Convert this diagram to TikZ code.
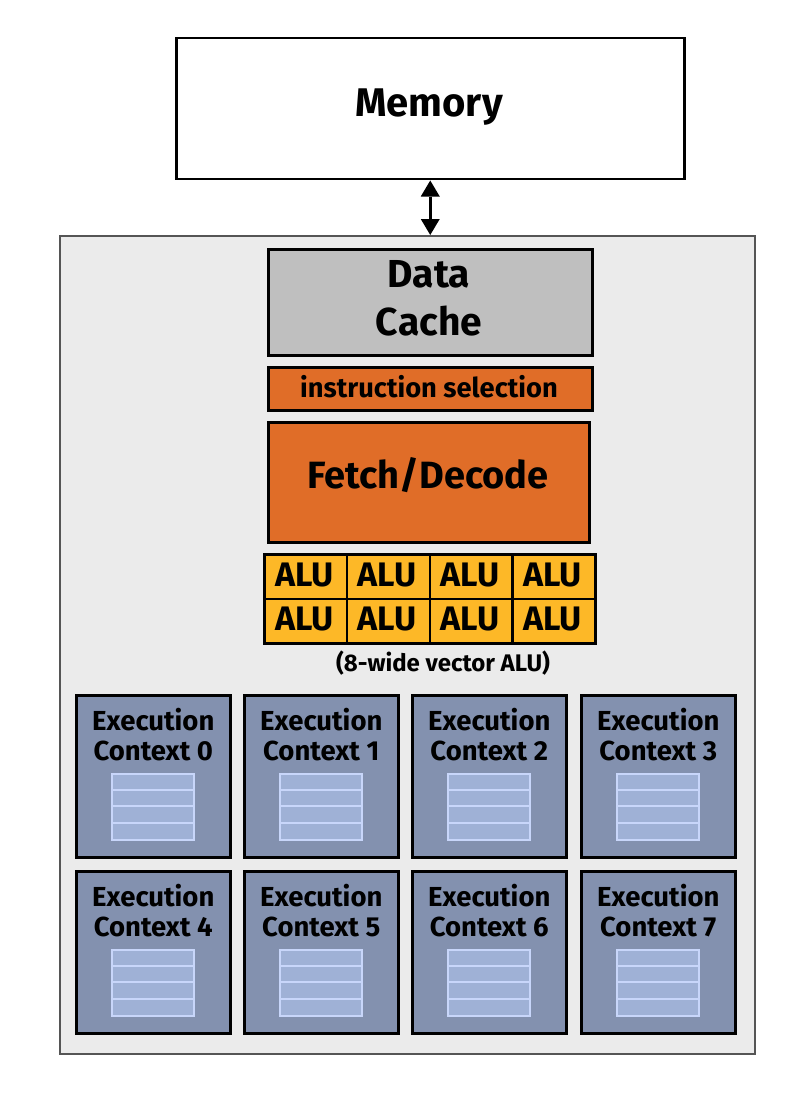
\documentclass[tikz,border=0pt]{standalone}
\usepackage{fontspec}
\setmainfont{Fira Sans}
\usetikzlibrary{shadows,arrows.meta}
\definecolor{coreg}{HTML}{EBEBEB}
\definecolor{coreb}{HTML}{555555}
\definecolor{cacheg}{HTML}{BFBFBF}
\definecolor{orng}{HTML}{E06D28}
\definecolor{aluy}{HTML}{FDB827}
\definecolor{ecfill}{HTML}{8391AF}
\definecolor{regfill}{HTML}{9FB1D6}
\definecolor{regline}{HTML}{C8D6FA}
\begin{document}
\begin{tikzpicture}[x=1pt,y=-1pt,
  blk/.style={draw=black, line width=2.5pt, inner sep=0pt, anchor=north west},
  shad/.style={drop shadow={shadow xshift=2pt, shadow yshift=-2pt, opacity=0.35, fill=black}},
  lbl/.style={inner sep=0pt, anchor=base},
  alucell/.style={blk, shad, fill=aluy, minimum width=82.75pt, minimum height=44.5pt},
  ecbox/.style={blk, shad, fill=ecfill, minimum width=154pt, minimum height=162pt},
  ectext/.style={lbl, font=\fontsize{27.5}{30}\selectfont\bfseries},
  regbox/.style={draw=regline, line width=2pt, fill=regfill, minimum width=82pt, minimum height=66pt, anchor=north, inner sep=0pt},
  bigtip/.tip={Triangle[length=16pt,width=19pt,line width=0pt]}
]
\useasboundingbox (0,0) rectangle (802,1102);
% memory
\node[blk, fill=white, minimum width=508pt, minimum height=141pt] (mem) at (175,37) {};
\node[lbl, font=\fontsize{40}{40}\selectfont\bfseries] (memt) at (429,117) {Memory};
% core
\node[draw=coreb, line width=2pt, fill=coreg, minimum width=695pt, minimum height=818pt, anchor=north west, inner sep=0pt] (core) at (59,235) {};
\draw[bigtip-bigtip, line width=3pt] (mem.south) -- (mem.south |- core.north);
% data cache
\node[blk, fill=cacheg, minimum width=324pt, minimum height=106pt] (cache) at (267,248) {};
\node[lbl, font=\fontsize{39}{39}\selectfont\bfseries] (cachet1) at (429,287) {Data};
\node[lbl, font=\fontsize{39}{39}\selectfont\bfseries] (cachet2) at (429,335) {Cache};
% instruction selection
\node[blk, shad, fill=orng, minimum width=324pt, minimum height=43pt] (isel) at (267,366) {};
\node[lbl, font=\fontsize{27.3}{27}\selectfont\bfseries] (iselt) at (429,397) {instruction selection};
% fetch/decode
\node[blk, shad, fill=orng, minimum width=321pt, minimum height=120pt] (fd) at (267,421) {};
\node[lbl, font=\fontsize{38}{38}\selectfont\bfseries] (fdt) at (428,488) {Fetch/Decode};
% ALUs
\foreach \r in {0,1}{
  \foreach \c in {0,1,2,3}{
    \node[alucell] (alu-\r-\c) at ({263+82.75*\c},{553+44.5*\r}) {};
    \node[lbl, font=\fontsize{34}{34}\selectfont\bfseries] (alut-\r-\c) at ({263+82.75*\c+41.4},{553+44.5*\r+33}) {ALU};
  }
}
\node[lbl, font=\fontsize{24}{24}\selectfont\bfseries] (alulab) at (443,671) {(8-wide vector ALU)};
% execution contexts
\foreach \i/\x/\y in {0/75/694, 1/243/694, 2/411/694, 3/580/694, 4/75/870, 5/243/870, 6/411/870, 7/580/870}{
  \node[ecbox] (ec\i) at (\x,\y) {};
  \node[ectext] (ecta\i) at ([yshift=-36pt]ec\i.north) {Execution};
  \node[ectext] (ectb\i) at ([yshift=-66pt]ec\i.north) {Context \i};
  \node[regbox] (reg\i) at ([yshift=-79pt]ec\i.north) {};
  \foreach \k in {1,2,3}{
    \draw[regline, line width=2pt] ([yshift={-16.5pt*\k}]reg\i.north west) -- ([yshift={-16.5pt*\k}]reg\i.north east);
  }
}
\end{tikzpicture}
\end{document}
